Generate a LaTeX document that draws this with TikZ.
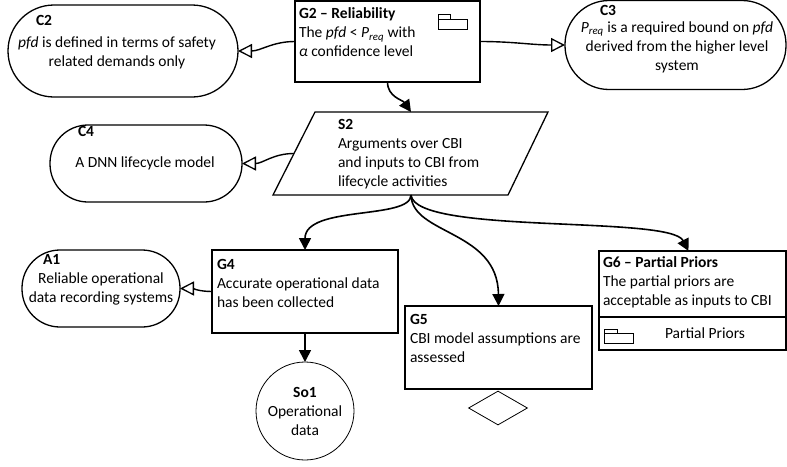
\documentclass[tikz,border=0pt]{standalone}
\usepackage{fontspec}
\setmainfont{Carlito}
\usetikzlibrary{arrows.meta,shapes.geometric}
\begin{document}
\begin{tikzpicture}[x=1pt,y=1pt,
  every node/.style={font=\fontsize{15.5}{19}\selectfont},
  goalbox/.style={draw,line width=1.3pt,rectangle,inner sep=0,outer sep=0},
  ctxbox/.style={draw,line width=1.3pt,rectangle,inner sep=0,outer sep=0},
  txt/.style={inner sep=0,outer sep=0,align=left,anchor=west},
  ctxt/.style={inner sep=0,outer sep=0,align=center},
  lbl/.style={inner sep=0,outer sep=0,anchor=west,font=\fontsize{15.5}{19}\selectfont\bfseries},
  arr/.style={line width=1.6pt,-{Triangle[length=12pt,width=12pt]}},
  openarr/.style={line width=1.4pt,-{Triangle[open,length=14pt,width=14pt,fill=white,line width=1.3pt]}},
  icon/.style={line width=1pt}
]
\useasboundingbox (0,0) rectangle (787,-466);

% Goal G2
\node[goalbox,minimum width=185,minimum height=81] (G2) at (387.5,-41.5) {};
\node[txt] (G2t) at (299,-32.5) {\textbf{G2 – Reliability}\\The \textit{pfd} < \textit{P}\textsubscript{\textit{req}} with\\\textit{α} confidence level};
\draw[icon] (438,-14) rectangle (450,-19);
\draw[icon] (438,-19) rectangle (467,-29);

% Context C2
\node[ctxbox,rounded corners=46,minimum width=230,minimum height=92] (C2) at (123,-51) {};
\node[lbl] (C2l) at (36,-20) {C2};
\node[ctxt] (C2t) at (117,-53) {\textit{pfd} is defined in terms of safety\\related demands only};

% Context C3
\node[ctxbox,rounded corners=44,minimum width=221,minimum height=89] (C3) at (675.5,-45) {};
\node[lbl] (C3l) at (600,-10) {C3};
\node[ctxt] (C3t) at (677,-47) {\textit{P}\textsubscript{\textit{req}} is a required bound on \textit{pfd}\\derived from the higher level\\system};

% Strategy S2 (parallelogram)
\node[inner sep=0,outer sep=0,minimum width=234,minimum height=83] (S2) at (411,-153.5) {};
\draw[line width=1.3pt] ([xshift=21]S2.north west) -- ([xshift=20]S2.north east)
  -- ([xshift=-20]S2.south east) -- ([xshift=-21]S2.south west) -- cycle;
\node[txt] (S2t) at (338,-154) {\textbf{S2}\\Arguments over CBI\\and inputs to CBI from\\lifecycle activities};

% Context C4
\node[ctxbox,rounded corners=38,minimum width=192,minimum height=77] (C4) at (146,-163.5) {};
\node[lbl] (C4l) at (78,-131) {C4};
\node[ctxt] (C4t) at (145,-163) {A DNN lifecycle model};

% Goal G4
\node[goalbox,minimum width=186,minimum height=83] (G4) at (305,-291.5) {};
\node[txt] (G4t) at (217,-283.5) {\textbf{G4}\\Accurate operational data\\has been collected};

% Assumption A1
\node[ctxbox,rounded corners=38,minimum width=158,minimum height=77] (A1) at (101,-288.5) {};
\node[lbl] (A1l) at (43,-259) {A1};
\node[ctxt] (A1t) at (101,-289) {Reliable operational\\data recording systems};

% Solution So1
\node[draw,line width=0.8pt,circle,minimum size=98,inner sep=0,outer sep=0] (So1) at (305,-411) {};
\node[ctxt] (So1t) at (305,-411) {\textbf{So1}\\Operational\\data};

% Goal G5
\node[goalbox,minimum width=187,minimum height=83] (G5) at (498.5,-347.5) {};
\node[txt] (G5t) at (410,-338) {\textbf{G5}\\CBI model assumptions are\\assessed};
\node[draw,line width=0.8pt,diamond,minimum width=59,minimum height=34,inner sep=0] (U5) at (498,-408) {};

% Goal G6
\node[goalbox,minimum width=187,minimum height=99] (G6) at (692.5,-300.5) {};
\node[txt] (G6t) at (603,-282) {\textbf{G6 – Partial Priors}\\The partial priors are\\acceptable as inputs to CBI};
\draw[line width=1.3pt] (G6.west |- 0,-317) -- (G6.east |- 0,-317);
\draw[icon] (604,-329) rectangle (617,-333);
\draw[icon] (604,-333) rectangle (633,-343);
\node[ctxt] (G6p) at (705,-333) {Partial Priors};

% Connectors
\draw[openarr] (G2.west) to[out=180,in=0] (C2.east);
\draw[openarr] (G2.east) to[out=0,in=180] (C3.west);
\draw[arr] (G2.south) to[out=-90,in=125] (S2.north);
\draw[openarr] (S2.west) to[out=180,in=0] (C4.east);
\draw[arr] (S2.south) .. controls (411,-220) and (305,-205) .. (G4.north);
\draw[arr] (S2.south) .. controls (412,-235) and (498,-230) .. (G5.north);
\draw[arr] (S2.south) .. controls (415,-235) and (670,-215) .. ([xshift=-4pt]G6.north);
\draw[openarr] (G4.west) to[out=180,in=0] (A1.east);
\draw[arr] (G4.south) -- (So1.north);
\end{tikzpicture}
\end{document}
